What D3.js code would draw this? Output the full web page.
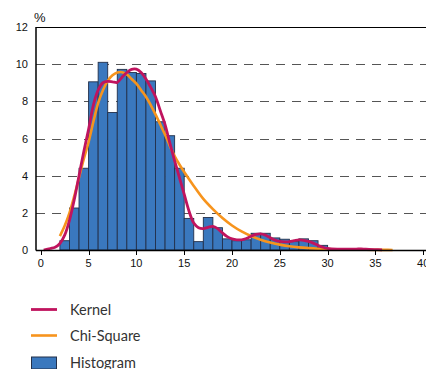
<!DOCTYPE html>
<html><head><meta charset="utf-8">
<script src="https://cdn.jsdelivr.net/npm/d3@7"></script>
<style>html,body{margin:0;padding:0;background:#fff;}svg{display:block;}</style>
</head><body>
<script>
// Histogram bins: left edge (width 1) and percentage
const binStarts = [2,3,4,5,6,7,8,9,10,11,12,13,14,15,16,17,18,19,20,21,22,23,24,25,26,27,28,29,30,33];
const binValues = [0.5,2.26,4.4,9.05,10.1,7.4,9.72,9.55,9.5,9.1,6.9,6.15,4.4,1.7,0.45,1.75,1.2,0.6,0.5,0.55,0.9,0.9,0.65,0.58,0.45,0.6,0.5,0.25,0.04,0.07];

// Kernel density curve
const kernelX = [0.3,1,1.5,2,2.5,3,3.5,4,4.5,5,5.5,6,6.5,7,7.5,8,8.5,9,9.5,10,10.5,11,11.5,12,12.5,13,13.5,14,14.5,15,15.5,16,16.5,17,17.5,18,18.5,19,19.5,20,20.5,21,21.5,22,22.5,23,23.5,24,24.5,25,25.5,26,26.5,27,27.5,28,28.5,29,29.5,30,31,32,33,33.5,34,35,35.7];
const kernelY = [0.0,0.08,0.15,0.35,0.8,1.6,2.7,4.0,5.3,6.5,7.8,8.6,9.0,9.07,9.05,9.02,9.3,9.55,9.72,9.73,9.55,9.2,8.75,8.25,7.5,6.75,5.75,4.8,3.9,3.0,2.1,1.45,1.2,1.15,1.22,1.27,1.15,0.92,0.72,0.6,0.55,0.55,0.62,0.74,0.84,0.87,0.8,0.66,0.53,0.46,0.44,0.45,0.5,0.54,0.52,0.46,0.37,0.25,0.15,0.09,0.05,0.04,0.05,0.06,0.04,0.02,0.01];

// Chi-square fit curve
const chiX = [2,2.5,3,3.5,4,4.5,5,5.5,6,6.5,7,7.5,8,8.5,9,9.5,10,10.5,11,11.5,12,12.5,13,13.5,14,14.5,15,16,17,18,19,20,21,22,23,24,25,26,27,28,29,30,31,32,33,34,35,36,36.8];
const chiY = [0.75,1.3,2.0,2.9,3.9,4.9,5.8,6.9,7.9,8.6,9.1,9.4,9.55,9.57,9.45,9.2,8.95,8.6,8.25,7.8,7.3,6.75,6.2,5.6,5.05,4.6,4.2,3.45,2.75,2.2,1.72,1.32,1.0,0.75,0.55,0.4,0.29,0.2,0.14,0.1,0.07,0.05,0.035,0.025,0.018,0.012,0.008,0.005,0.004];

const xTicks = [0,5,10,15,20,25,30,35,40];
const yTicks = [0,2,4,6,8,10,12];
const legendLabels = ["Kernel","Chi-Square","Histogram"];

const W = 426, H = 369;
const svg = d3.select("body").append("svg").attr("width", W).attr("height", H);

const x = d3.scaleLinear().domain([-0.5, 40.5]).range([36, 428]);
const y = d3.scaleLinear().domain([0, 12]).range([250, 27]);

// gridlines
svg.append("g").selectAll("line").data(yTicks.filter(d => d > 0 && d < 12)).join("line")
  .attr("x1", 36).attr("x2", W)
  .attr("y1", d => Math.round(y(d)) + 0.5).attr("y2", d => Math.round(y(d)) + 0.5)
  .attr("stroke", "#555").attr("stroke-width", 1).attr("stroke-dasharray", "9,7");

// bars
svg.append("g").selectAll("rect").data(binStarts).join("rect")
  .attr("x", d => x(d))
  .attr("width", d => x(d + 1) - x(d))
  .attr("y", (d, i) => y(binValues[i]))
  .attr("height", (d, i) => y(0) - y(binValues[i]))
  .attr("fill", "#3a78be").attr("stroke", "#23304a").attr("stroke-width", 0.9);

const line = d3.line().curve(d3.curveCatmullRom.alpha(0.5));

svg.append("path")
  .attr("d", line(chiX.map((v, i) => [x(v), y(chiY[i])])))
  .attr("fill", "none").attr("stroke", "#f7941d").attr("stroke-width", 2.6);

svg.append("path")
  .attr("d", line(kernelX.map((v, i) => [x(v), y(kernelY[i])])))
  .attr("fill", "none").attr("stroke", "#c0145e").attr("stroke-width", 2.8);

// axes frame
svg.append("line").attr("x1", 36).attr("x2", W).attr("y1", 27.5).attr("y2", 27.5).attr("stroke", "#000").attr("stroke-width", 1.2);
svg.append("line").attr("x1", 36).attr("x2", 36).attr("y1", 27).attr("y2", 250.5).attr("stroke", "#000").attr("stroke-width", 1.5);
svg.append("line").attr("x1", 36).attr("x2", W).attr("y1", 250.5).attr("y2", 250.5).attr("stroke", "#000").attr("stroke-width", 1.5);

// x ticks
svg.append("g").selectAll("line").data(xTicks).join("line")
  .attr("x1", d => Math.round(x(d)) + 0.5).attr("x2", d => Math.round(x(d)) + 0.5)
  .attr("y1", 251).attr("y2", 255).attr("stroke", "#000").attr("stroke-width", 1);

svg.append("g").selectAll("text").data(xTicks).join("text")
  .attr("x", d => x(d)).attr("y", 267)
  .attr("text-anchor", "middle")
  .attr("font-family", "Liberation Sans, Arial, sans-serif").attr("font-size", 11).attr("fill", "#111")
  .text(d => d);

svg.append("g").selectAll("text").data(yTicks).join("text")
  .attr("x", 28).attr("y", d => y(d) + 4)
  .attr("text-anchor", "end")
  .attr("font-family", "Liberation Sans, Arial, sans-serif").attr("font-size", 11).attr("fill", "#111")
  .text(d => d);

svg.append("text").attr("x", 34).attr("y", 22)
  .attr("font-family", "Liberation Sans, Arial, sans-serif").attr("font-size", 13).attr("fill", "#111")
  .text("%");

// legend
const lg = svg.append("g").attr("font-family", "Lato, sans-serif").attr("font-size", 14.5).attr("fill", "#333");
const ly = [309.5, 335.5, 362];
lg.append("line").attr("x1", 31).attr("x2", 57).attr("y1", ly[0]).attr("y2", ly[0]).attr("stroke", "#c0145e").attr("stroke-width", 2.8);
lg.append("line").attr("x1", 31).attr("x2", 57).attr("y1", ly[1]).attr("y2", ly[1]).attr("stroke", "#f7941d").attr("stroke-width", 2.6);
lg.append("rect").attr("x", 31.5).attr("y", 357).attr("width", 25).attr("height", 12).attr("fill", "#3a78be").attr("stroke", "#23304a").attr("stroke-width", 1);
lg.selectAll("text").data(legendLabels).join("text")
  .attr("x", 70).attr("y", (d, i) => ly[i] + 5.5)
  .text(d => d);
</script>
</body></html>
